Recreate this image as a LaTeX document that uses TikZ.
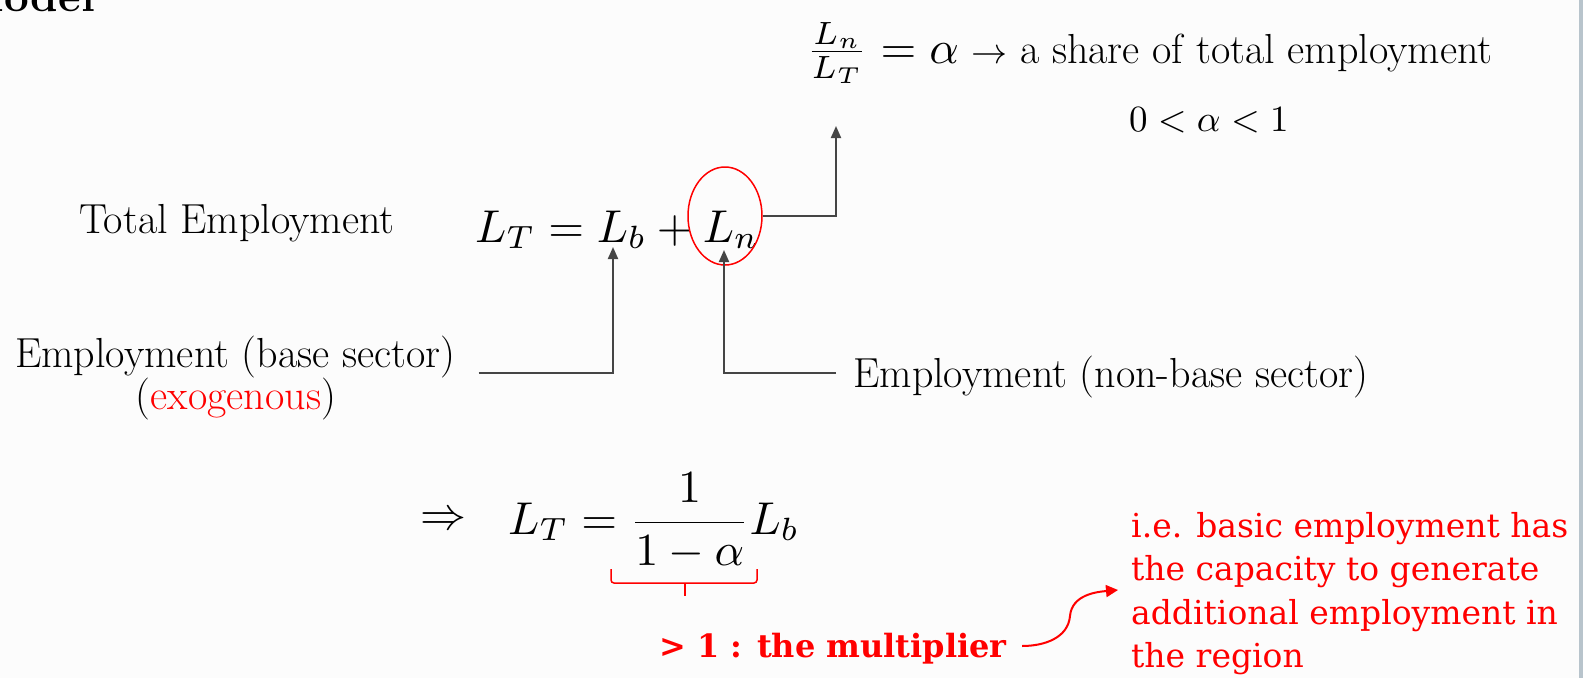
\documentclass[tikz,border=0pt]{standalone}
\usepackage{amsmath}
\usepackage{fontspec}
\usetikzlibrary{arrows.meta,shapes.geometric}
\newfontfamily\redfont{DejaVu Serif}
\definecolor{lineg}{HTML}{454545}
\definecolor{bgc}{HTML}{FCFCFC}
\definecolor{edgec}{HTML}{B8C4CC}
\definecolor{redc}{HTML}{FF0000}
\newcommand{\sclm}[2]{\scalebox{#1}{\fontsize{10}{12}\selectfont$#2$}}
\begin{document}
\begin{tikzpicture}[x=1pt,y=-1pt,
  txt/.style={inner sep=0pt, font=\fontsize{42}{48}\selectfont},
  mth/.style={inner sep=0pt},
  redtxt/.style={inner sep=0pt, text=redc, font=\redfont\fontsize{33}{43}\selectfont},
  garrow/.style={draw=lineg, line width=2pt, -{Triangle[width=10pt,length=12pt]}},
  rarrow/.style={draw=redc, line width=2pt, -{Triangle[width=12pt,length=12pt]}},
  rline/.style={draw=redc, line width=1.5pt}]
\useasboundingbox (0,0) rectangle (1583,678);
\fill[bgc] (0,0) rectangle (1583,678);
\fill[edgec] (1579,0) rectangle (1583,678);

% title fragment
\node[anchor=base east, inner sep=0pt, font=\bfseries\fontsize{44}{50}\selectfont] (title) at (95,11) {Model};

% share formula
\node[anchor=base west, inner sep=0pt] (share) at (806,63)
  {\sclm{4.6}{\frac{L_n}{L_T}=\alpha}\fontsize{42}{48}\selectfont\ \sclm{3.6}{\rightarrow} a share of total employment};
\node[mth, anchor=base west] (range) at (1129,131) {\sclm{3.7}{0<\alpha<1}};

% main equation
\node[txt, anchor=base west] (total) at (79,233) {Total Employment};
\node[mth, anchor=base west] (eqA) at (475,242) {\sclm{4.6}{L_T = L_b + L_n}};
\node[ellipse, draw=redc, line width=1.5pt, minimum width=74pt, minimum height=98pt, inner sep=0pt] (lnell) at (725,216) {};
\coordinate (alphatip) at (836,126);
\draw[garrow] (lnell.east) -| (alphatip);

% base sector
\node[txt, anchor=base west] (basetxt) at (15,367) {Employment (base sector)};
\node[txt, anchor=base] (exotxt) at (236,409) {(\textcolor{redc}{exogenous})};
\coordinate (lbtip) at (613,247);
\draw[garrow] ([shift={(23,6)}]basetxt.base east) -| (lbtip);

% non-base sector
\node[txt, anchor=base west] (nbtxt) at (853,387) {Employment (non-base sector)};
\coordinate (lntip) at (724,250);
\draw[garrow] ([shift={(-17,-14)}]nbtxt.base west) -| (lntip);

% result
\node[mth, anchor=base west] (imp) at (420,529) {\sclm{4.6}{\Rightarrow}};
\node[mth, anchor=base west] (eqB) at (508,534) {\sclm{4.6}{L_T = \dfrac{1}{1-\alpha}L_b}};

% bracket
\draw[rline, rounded corners=3pt] (611,569) -- (611,583) -- (757,583) -- (757,569);
\draw[rline] (685,583) -- (685,596);

\node[inner sep=0pt, text=redc, font=\redfont\bfseries\fontsize{32}{40}\selectfont, anchor=base] (mult) at (833,657) {> 1 : the multiplier};

\node[redtxt, anchor=base west] (r1) at (1131,537) {i.e. basic employment has};
\node[redtxt, anchor=base west] (r2) at (1131,580) {the capacity to generate};
\node[redtxt, anchor=base west] (r3) at (1131,624) {additional employment in};
\node[redtxt, anchor=base west] (r4) at (1131,667) {the region};

\coordinate (curvetip) at (1118,590);
\draw[rarrow] ([shift={(15,-11)}]mult.base east) to[out=0,in=-95] (1070,616) to[out=85,in=185] (curvetip);
\end{tikzpicture}
\end{document}
